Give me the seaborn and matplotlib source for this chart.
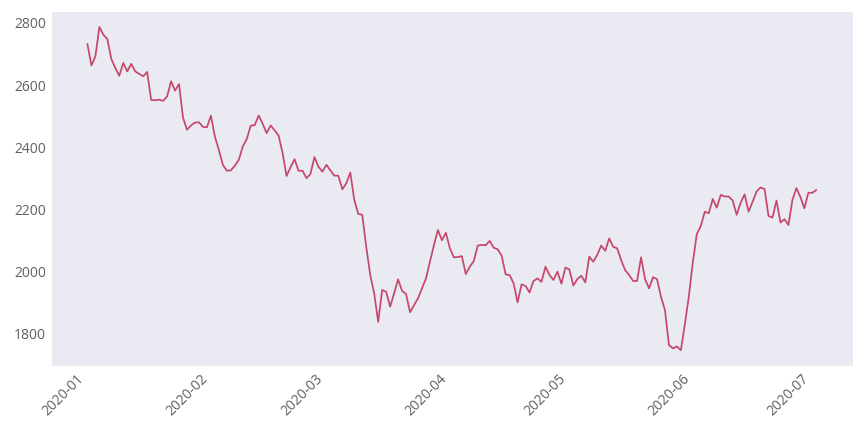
import numpy as np
import pandas as pd
import matplotlib
matplotlib.use('Agg')
import matplotlib.pyplot as plt
import seaborn as sns

# valores diarios (desde 2020-01-01)
start_date = '2020-01-01'
values = [
    2732, 2663, 2692, 2787, 2762, 2748, 2684, 2655, 2630, 2671,
    2644, 2668, 2644, 2636, 2628, 2642, 2552, 2551, 2553, 2549,
    2563, 2612, 2582, 2603, 2495, 2456, 2470, 2479, 2480, 2465,
    2464, 2501, 2434, 2391, 2343, 2324, 2325, 2340, 2359, 2402,
    2426, 2469, 2471, 2502, 2475, 2445, 2470, 2454, 2437, 2381,
    2307, 2335, 2361, 2324, 2324, 2300, 2314, 2368, 2337, 2321,
    2343, 2325, 2308, 2308, 2264, 2284, 2318, 2230, 2185, 2182,
    2079, 1988, 1929, 1837, 1940, 1934, 1886, 1929, 1974, 1937,
    1927, 1868, 1891, 1913, 1945, 1977, 2031, 2085, 2133, 2100,
    2124, 2074, 2045, 2046, 2049, 1991, 2015, 2033, 2083, 2085,
    2084, 2098, 2076, 2071, 2050, 1990, 1988, 1961, 1900, 1958,
    1953, 1932, 1969, 1977, 1966, 2015, 1988, 1972, 1999, 1960,
    2012, 2006, 1954, 1975, 1986, 1964, 2047, 2031, 2053, 2083,
    2066, 2106, 2079, 2074, 2036, 2004, 1988, 1969, 1969, 2045,
    1975, 1945, 1981, 1975, 1918, 1875, 1762, 1752, 1758, 1746,
    1830, 1920, 2030, 2120, 2146, 2192, 2187, 2233, 2205, 2246,
    2241, 2241, 2228, 2182, 2221, 2248, 2192, 2224, 2257, 2270,
    2265, 2178, 2173, 2228, 2157, 2168, 2149, 2230, 2268, 2239,
    2203, 2253, 2253, 2262,
]
dates = pd.date_range(start_date, periods=len(values), freq='D')

sns.set_style('dark')
plt.rcParams['font.family'] = ['Open Sans', 'DejaVu Sans']

fig, ax = plt.subplots(figsize=(8.64, 4.32), dpi=100)
fig.subplots_adjust(left=0.059, right=0.987, top=0.975, bottom=0.152)

sns.lineplot(x=dates, y=values, ax=ax, color='#C6476A', linewidth=1.25)

ax.set_xlabel('')
ax.set_ylabel('')
ax.tick_params(axis='both', labelsize=10, labelcolor='#606060', length=0)
plt.setp(ax.get_xticklabels(), rotation=45, ha='right')

plt.savefig('out.png', dpi=100)
